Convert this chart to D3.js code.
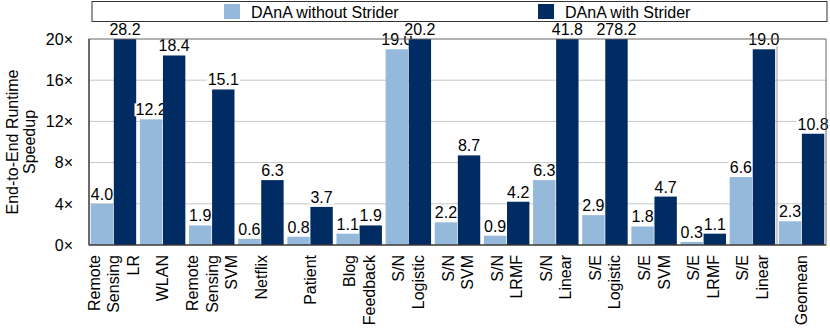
<!DOCTYPE html>
<html lang="en">
<head>
    <meta charset="UTF-8">
    <title>DAnA speedup</title>
    <script src="https://d3js.org/d3.v7.min.js"></script>
    <style>
        body { margin: 0; background: #fff; }
        text { font-family: "Liberation Sans", Arial, sans-serif; fill: #000; }
    </style>
</head>
<body>

<script>
    categories = ["Remote Sensing LR", "WLAN", "Remote Sensing SVM", "Netflix", "Patient",
        "Blog Feedback", "S/N Logistic", "S/N SVM", "S/N LRMF", "S/N Linear",
        "S/E Logistic", "S/E SVM", "S/E LRMF", "S/E Linear", "Geomean"]

    seriesNames = ["DAnA without Strider", "DAnA with Strider"]

    withoutStrider = [4.0, 12.2, 1.9, 0.6, 0.8, 1.1, 19.0, 2.2, 0.9, 6.3, 2.9, 1.8, 0.3, 6.6, 2.3]
    withStrider = [28.2, 18.4, 15.1, 6.3, 3.7, 1.9, 20.2, 8.7, 4.2, 41.8, 278.2, 4.7, 1.1, 19.0, 10.8]

    yTicks = [0, 4, 8, 12, 16, 20]
    yTitle = ["End-to-End Runtime", "Speedup"]

    colors = ["#94b9da", "#002b63"]

    //chart dimensions (plot frame edges)
    w = 830
    h = 328
    plotL = 89
    plotR = 826
    plotT = 39
    plotB = 245
    fontSize = 16

    svg = d3.select("body")
        .append("svg")
        .attr("width", w)
        .attr("height", h)

    //scales
    x = d3.scaleBand()
        .domain(categories)
        .range([plotL, plotR])
        .paddingInner(0.075)
        .paddingOuter(0.035)

    xSub = d3.scaleBand()
        .domain([0, 1])
        .range([0, x.bandwidth()])
        .paddingInner(0.03)

    y = d3.scaleLinear()
        .domain([0, 20])
        .range([plotB, plotT])

    //gridlines
    svg.append("g")
        .selectAll("line")
        .data(yTicks.filter((d) => d > 0 && d < 20))
        .enter()
        .append("line")
        .attr("x1", plotL)
        .attr("x2", plotR)
        .attr("y1", (d) => y(d))
        .attr("y2", (d) => y(d))
        .attr("stroke", "#c8c8c8")
        .attr("stroke-width", 1)

    //separator before geomean
    sepX = (x(categories[13]) + x.bandwidth() + x(categories[14])) / 2
    svg.append("line")
        .attr("x1", sepX).attr("x2", sepX)
        .attr("y1", plotT).attr("y2", plotB)
        .attr("stroke", "#9a9a9a")

    //bars
    rows = categories.map((c, i) => ({cat: c, vals: [withoutStrider[i], withStrider[i]]}))

    groups = svg.append("g")
        .selectAll("g")
        .data(rows)
        .enter()
        .append("g")
        .attr("transform", (d) => "translate(" + x(d.cat) + ",0)")

    cells = groups.selectAll("g.cell")
        .data((d) => d.vals.map((v, k) => ({v: v, k: k})))
        .enter()
        .append("g")
        .attr("class", "cell")

    cells.append("rect")
        .attr("x", (d) => xSub(d.k))
        .attr("width", xSub.bandwidth())
        .attr("y", (d) => y(Math.min(d.v, 20)))
        .attr("height", (d) => plotB - y(Math.min(d.v, 20)))
        .attr("fill", (d) => colors[d.k])

    //value labels with white background
    labels = cells.append("text")
        .attr("x", (d) => xSub(d.k) + xSub.bandwidth() / 2)
        .attr("y", (d) => y(Math.min(d.v, 20)) - 4)
        .attr("text-anchor", "middle")
        .attr("font-size", fontSize)
        .text((d) => d.v.toFixed(1))

    labels.each(function () {
        var b = this.getBBox()
        d3.select(this.parentNode)
            .insert("rect", "text")
            .attr("x", b.x - 1)
            .attr("y", b.y + 2)
            .attr("width", b.width + 2)
            .attr("height", b.height - 4)
            .attr("fill", "#fff")
    })

    //frame
    svg.append("rect")
        .attr("x", plotL).attr("y", plotT)
        .attr("width", plotR - plotL).attr("height", plotB - plotT)
        .attr("fill", "none")
        .attr("stroke", "#666")
    svg.append("path")
        .attr("d", "M" + plotL + "," + plotT + "V" + plotB + "H" + plotR)
        .attr("fill", "none")
        .attr("stroke", "#222")

    //y tick labels
    svg.append("g")
        .selectAll("text")
        .data(yTicks)
        .enter()
        .append("text")
        .attr("x", 73)
        .attr("y", (d) => y(d))
        .attr("dy", "0.36em")
        .attr("text-anchor", "end")
        .attr("font-size", fontSize)
        .text((d) => d + "\u00d7")

    //y title, two lines
    yTitle.forEach((t, i) => {
        svg.append("text")
            .attr("transform", "translate(" + (12 + i * 17) + "," + (plotT + plotB) / 2 + ") rotate(-90)")
            .attr("dy", "0.36em")
            .attr("text-anchor", "middle")
            .attr("font-size", fontSize)
            .text(t)
    })

    //x labels, one vertical column per word
    categories.forEach((c) => {
        var words = c.split(" ")
        var cx = x(c) + x.bandwidth() / 2
        words.forEach((wd, i) => {
            var px = cx + (i - (words.length - 1) / 2) * 19.5
            svg.append("text")
                .attr("transform", "translate(" + px + ",255) rotate(-90)")
                .attr("dy", "0.36em")
                .attr("text-anchor", "end")
                .attr("font-size", fontSize)
                .text(wd)
        })
    })

    //legend
    svg.append("rect")
        .attr("x", 92).attr("y", 1.5)
        .attr("width", 735).attr("height", 20)
        .attr("fill", "#fff")
        .attr("stroke", "#333")

    legendX = [224, 538]
    seriesNames.forEach((s, i) => {
        svg.append("rect")
            .attr("x", legendX[i]).attr("y", 4)
            .attr("width", 16).attr("height", 15)
            .attr("fill", colors[i])
        svg.append("text")
            .attr("x", legendX[i] + 27)
            .attr("y", 18)
            .attr("font-size", fontSize)
            .text(s)
    })
</script>

</body>
</html>
